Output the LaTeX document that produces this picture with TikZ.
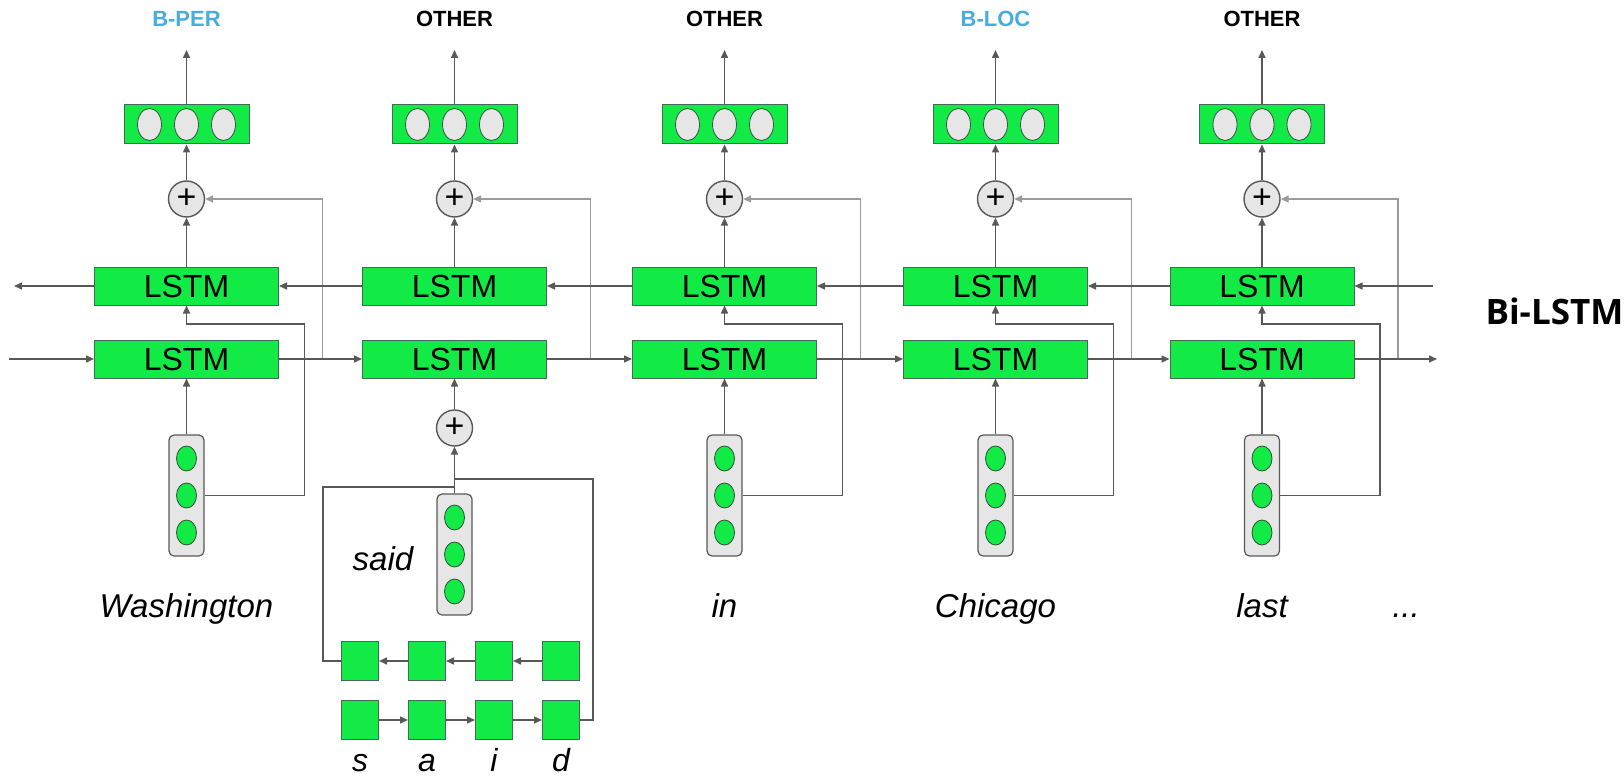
\documentclass[tikz,border=0pt]{standalone}
\usepackage{fontspec}
\setmainfont{Liberation Sans}
\setsansfont{Liberation Sans}
\newfontfamily\bifont{Open Sans}
\usepackage{tikz}
\usetikzlibrary{shapes.geometric}
\usetikzlibrary{arrows.meta}
\usetikzlibrary{positioning}
\definecolor{lstmgreen}{RGB}{18,235,70}
\definecolor{tagblue}{RGB}{72,172,222}
\definecolor{wiregray}{RGB}{88,88,88}
\definecolor{skipgray}{RGB}{155,155,155}
\definecolor{cellgray}{RGB}{230,230,230}
\definecolor{edgegreen}{RGB}{70,105,85}

\begin{document}
\begin{tikzpicture}[
  x=1pt, y=-1pt,
  lstm/.style={rectangle,draw=edgegreen,fill=lstmgreen,line width=1pt,minimum width=184pt,minimum height=38pt,inner sep=0pt,font=\fontsize{32}{32}\selectfont},
  outbox/.style={rectangle,draw=edgegreen,fill=lstmgreen,line width=1pt,minimum width=125pt,minimum height=39pt,inner sep=0pt},
  oval/.style={ellipse,draw=edgegreen!80!black,fill=cellgray,line width=0.8pt,minimum width=24pt,minimum height=32pt,inner sep=0pt},
  sumnode/.style={circle,draw=wiregray,fill=cellgray,line width=1.4pt,minimum size=36pt,inner sep=0pt,font=\fontsize{34}{34}\selectfont},
  embbox/.style={rectangle,rounded corners=5pt,draw=wiregray,fill=cellgray,line width=1.2pt,minimum width=35pt,minimum height=121pt,inner sep=0pt},
  cell/.style={ellipse,draw=edgegreen!70!black,fill=lstmgreen,line width=0.8pt,minimum width=20pt,minimum height=25pt,inner sep=0pt},
  charbox/.style={rectangle,draw=edgegreen,fill=lstmgreen,line width=1pt,minimum width=37pt,minimum height=39pt,inner sep=0pt},
  tag/.style={font=\fontsize{22}{22}\selectfont\bfseries,anchor=base},
  word/.style={font=\fontsize{33}{33}\selectfont\itshape,anchor=base},
  wirelink/.style={draw=wiregray,line width=1.5pt},
  arrowwire/.style={wirelink,-{Triangle[length=8pt,width=7pt]}},
  skipwire/.style={draw=skipgray,line width=1.4pt,-{Triangle[length=8pt,width=7pt]}}
]
\useasboundingbox (0,0) rectangle (1624,778);

\foreach \i/\cx/\lab/\tc in {1/186.5/B-PER/tagblue,2/454.5/OTHER/black,3/724.5/OTHER/black,4/995.5/B-LOC/tagblue,5/1262/OTHER/black}{
  \node[lstm] (bw\i) at (\cx,286) {LSTM};
  \node[lstm] (fw\i) at (\cx,359) {LSTM};
  \node[sumnode] (sum\i) at (\cx,199) {+};
  \node[outbox] (out\i) at (\cx,124.5) {};
  \foreach \k in {-1,0,1}
    \node[oval] (o\i\k) at (\cx+37*\k,124.5) {};
  \node[tag,text=\tc] (tag\i) at (\cx,27) {\lab};
  \coordinate (top\i) at (\cx,50);
  \coordinate (br\i) at (\cx+136,359);
  \draw[arrowwire] (out\i) -- (top\i);
  \draw[arrowwire] (sum\i) -- (out\i);
  \draw[arrowwire] (bw\i) -- (sum\i);
  \draw[skipwire] (br\i) |- (sum\i);
}

\foreach \i/\cx/\w in {1/186.5/Washington,3/724.5/in,4/995.5/Chicago,5/1262/last}{
  \node[embbox] (emb\i) at (\cx,495.5) {};
  \foreach \k in {-1,0,1}
    \node[cell] (e\i\k) at (\cx,495.5+37*\k) {};
  \node[word] (word\i) at (\cx,617) {\w};
  \draw[arrowwire] (emb\i) -- (fw\i);
  \draw[arrowwire] (emb\i.east) -| (\cx+118,324) -| (bw\i);
}
\node[word] (dots) at (1406,617) {...};

\foreach \i/\j in {1/2,2/3,3/4,4/5}{
  \draw[arrowwire] (fw\i) -- (fw\j);
  \draw[arrowwire] (bw\j) -- (bw\i);
}
\coordinate (fwin) at (9,359);
\coordinate (fwout) at (1437,359);
\coordinate (bwin) at (1433,286);
\coordinate (bwout) at (14,286);
\draw[arrowwire] (fwin) -- (fw1);
\draw[arrowwire] (fw5) -- (fwout);
\draw[arrowwire] (bwin) -- (bw5);
\draw[arrowwire] (bw1) -- (bwout);

\node[embbox] (emb2) at (454.5,554.5) {};
\foreach \k in {-1,0,1}
  \node[cell] (e2\k) at (454.5,554.5+37*\k) {};
\node[word] (word2) at (383,570) {said};
\node[sumnode] (sumc) at (454.5,428) {+};
\draw[arrowwire] (sumc) -- (fw2);
\draw[arrowwire] (emb2) -- (sumc);

\foreach \c/\x/\l in {1/360/s,2/427/a,3/494/i,4/561/d}{
  \node[charbox] (cb\c) at (\x,661) {};
  \node[charbox] (cf\c) at (\x,720) {};
  \node[word,font=\fontsize{32}{32}\selectfont\itshape] (ch\c) at (\x,771) {\l};
}
\foreach \a/\b in {1/2,2/3,3/4}{
  \draw[arrowwire] (cf\a) -- (cf\b);
  \draw[arrowwire] (cb\b) -- (cb\a);
}
\draw[wirelink] (cb1.west) -| (323,487) -- (454.5,487);
\draw[wirelink] (cf4.east) -| (593,479) -- (454.5,479);

\node[font=\bifont\bfseries\fontsize{35}{35}\selectfont,anchor=base west] (title) at (1482,324) {Bi-LSTM};
\end{tikzpicture}
\end{document}
